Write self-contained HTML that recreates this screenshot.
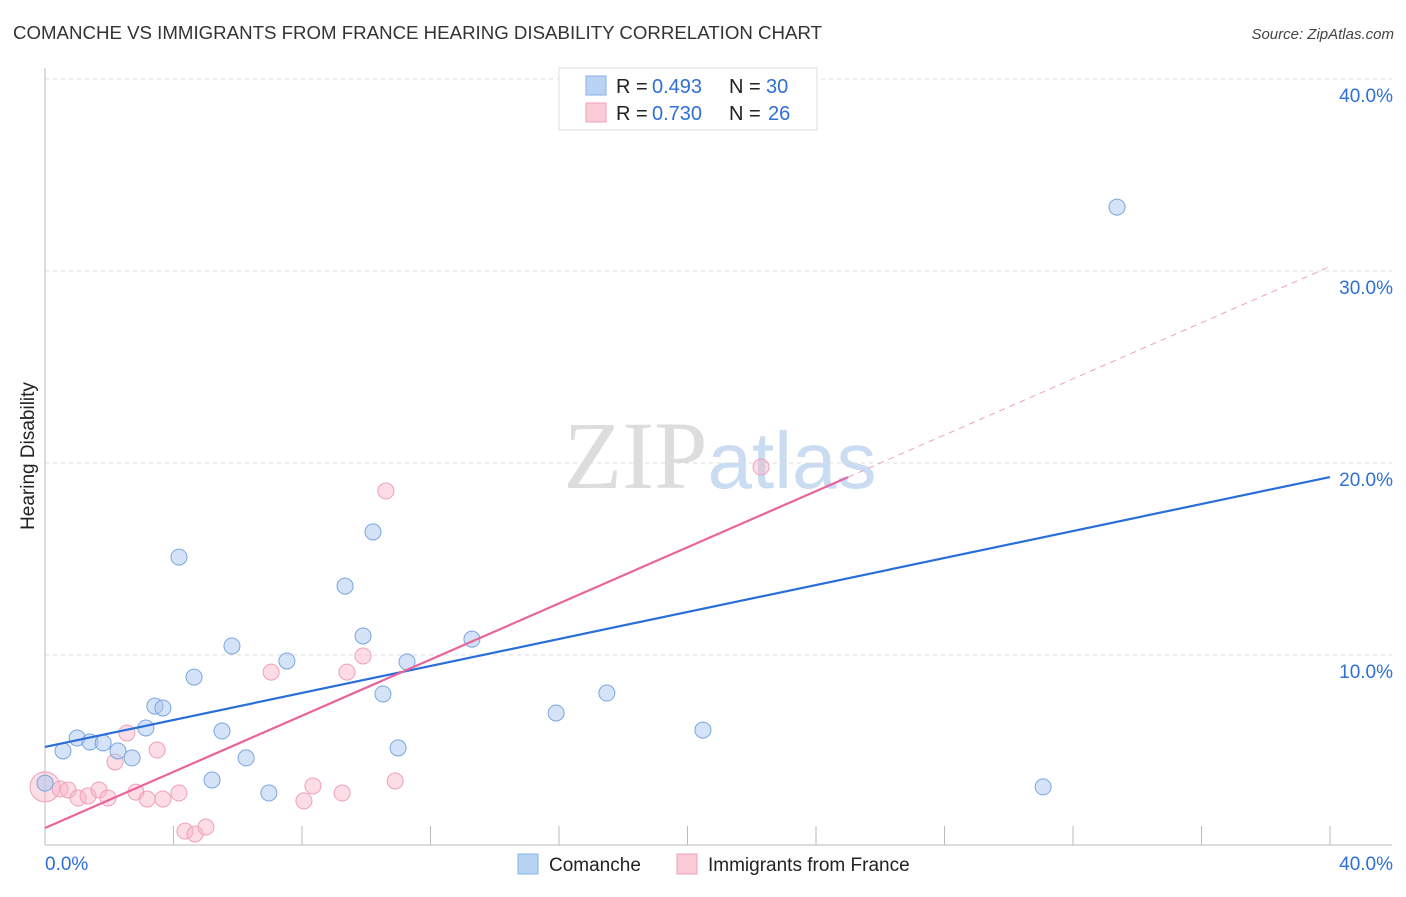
<!DOCTYPE html>
<html><head><meta charset="utf-8"><style>
body{margin:0;background:#fff;font-family:"Liberation Sans",sans-serif;}
svg text{font-family:"Liberation Sans",sans-serif;}
</style></head><body>
<svg id="chart" width="1406" height="892" viewBox="0 0 1406 892" xmlns="http://www.w3.org/2000/svg">
<text x="13" y="39" font-size="18" fill="#333" textLength="809" lengthAdjust="spacingAndGlyphs">COMANCHE VS IMMIGRANTS FROM FRANCE HEARING DISABILITY CORRELATION CHART</text>
<text x="1394" y="39" font-size="15" font-style="italic" fill="#444" text-anchor="end">Source: ZipAtlas.com</text>
<text x="720" y="488" font-size="96" text-anchor="middle"><tspan font-family="Liberation Serif" fill="#ddd">ZIP</tspan><tspan fill="#c9dcf2" font-size="80">atlas</tspan></text>
<g id="grid"></g>
<g id="axes"></g>
<g id="marks"></g>
<text transform="translate(34,456) rotate(-90)" font-size="19" fill="#222" text-anchor="middle">Hearing Disability</text>
<g>
<rect x="559" y="68" width="258" height="62" fill="#fff" stroke="#ddd"/>
<rect x="586" y="76" width="20" height="19" fill="#b9d3f5" stroke="#8ab2e8"/>
<rect x="586" y="103" width="20" height="19" fill="#fbcbd8" stroke="#f0a0b8"/>
<text x="616" y="93" font-size="20" fill="#222">R =</text>
<text x="652" y="93" font-size="20" fill="#2f6fd6">0.493</text>
<text x="729" y="93" font-size="20" fill="#222">N =</text>
<text x="766" y="93" font-size="20" fill="#2f6fd6">30</text>
<text x="616" y="120" font-size="20" fill="#222">R =</text>
<text x="652" y="120" font-size="20" fill="#2f6fd6">0.730</text>
<text x="729" y="120" font-size="20" fill="#222">N =</text>
<text x="768" y="120" font-size="20" fill="#2f6fd6">26</text>
</g>
<g>
<rect x="518" y="854" width="20" height="20" fill="#b9d3f5" stroke="#8ab2e8"/>
<text x="549" y="871" font-size="19" fill="#222">Comanche</text>
<rect x="677" y="854" width="20" height="20" fill="#fbcbd8" stroke="#f0a0b8"/>
<text x="708" y="871" font-size="19" fill="#222">Immigrants from France</text>
</g>
</svg>
<script>
const yTicks=[10,20,30,40];
const yTickLabels=["10.0%","20.0%","30.0%","40.0%"];
const xTickLabels=["0.0%","40.0%"];
const blueX=[0,0.56,1.0,1.4,1.81,2.27,2.71,3.14,3.42,3.67,4.17,4.64,5.2,5.51,5.82,6.26,6.97,7.53,9.34,9.9,10.21,10.52,10.99,11.27,13.29,15.91,17.49,20.48,31.07,33.37];
const blueY=[3.33,5.0,5.68,5.47,5.42,5.0,4.64,6.2,7.34,7.24,15.1,8.85,3.49,6.04,10.47,4.64,2.81,9.69,13.59,10.99,16.41,7.97,5.16,9.64,10.83,6.98,8.02,6.09,3.13,33.33];
const pinkX=[0,0.47,0.72,1.03,1.34,1.68,1.96,2.18,2.55,2.83,3.18,3.49,3.67,4.17,4.36,4.67,5.01,7.04,8.06,8.34,9.25,9.4,9.9,10.61,10.9,22.29];
const pinkY=[3.13,3.02,2.97,2.55,2.66,2.97,2.55,4.43,5.94,2.86,2.5,5.05,2.5,2.81,0.83,0.68,1.04,9.11,2.4,3.18,2.81,9.11,9.95,18.54,3.44,19.79];
const blueTrend=[5.21,19.27];
const pinkTrend=[0.99,0.731];
const pinkSolidEnd=25.0;
const X=v=>45+v*32.125, Y=v=>847-v*19.2;
const NS="http://www.w3.org/2000/svg";
function mk(tag,attrs,parent){const e=document.createElementNS(NS,tag);for(const k in attrs)e.setAttribute(k,attrs[k]);document.getElementById(parent).appendChild(e);return e;}
yTicks.forEach((t,i)=>{
 const l=mk('line',{x1:45,x2:1392,y1:Y(t),y2:Y(t),stroke:'#ddd','stroke-dasharray':'4,4'},'grid');
 
 
 const tx=mk('text',{x:1393,y:Y(t)+23,'font-size':19,fill:'#2f6fd6','text-anchor':'end'},'axes');
 tx.textContent=yTickLabels[i];
 
 
});
let a=mk('line',{x1:45,x2:45,y1:68,y2:845,stroke:'#bbb'},'axes');


a=mk('line',{x1:45,x2:1392,y1:845,y2:845,stroke:'#bbb'},'axes');


for(let i=1;i<=10;i++){const t=mk('line',{x1:X(i*4),x2:X(i*4),y1:826,y2:845,stroke:'#bbb'},'axes');
 
 }
[[0,'start',45],[40,'end',1393]].forEach((d,i)=>{const t=mk('text',{x:d[2],y:870,'font-size':19,fill:'#2f6fd6','text-anchor':d[1]},'axes');t.textContent=xTickLabels[i];
 
 });
pinkX.forEach((x,i)=>{const c=mk('circle',{cx:X(x),cy:Y(pinkY[i]),r:i===0?15:8,fill:'rgba(248,180,200,0.45)',stroke:'#eea0b8','stroke-width':1},'marks');
 
 });
blueX.forEach((x,i)=>{const c=mk('circle',{cx:X(x),cy:Y(blueY[i]),r:8,fill:'rgba(170,200,240,0.5)',stroke:'#7aa6e0','stroke-width':1},'marks');
 
 });
let tl=mk('line',{x1:X(0),y1:Y(blueTrend[0]),x2:X(40),y2:Y(blueTrend[1]),stroke:'#2a6fd8','stroke-width':2.2},'marks');


tl=mk('line',{x1:X(0),y1:Y(pinkTrend[0]),x2:X(pinkSolidEnd),y2:Y(pinkTrend[0]+pinkTrend[1]*pinkSolidEnd),stroke:'#e8649a','stroke-width':2.2},'marks');


tl=mk('line',{x1:X(pinkSolidEnd),y1:Y(pinkTrend[0]+pinkTrend[1]*pinkSolidEnd),x2:X(40),y2:Y(pinkTrend[0]+pinkTrend[1]*40),stroke:'#eea0b8','stroke-width':1,'stroke-dasharray':'6,5'},'marks');


</script>
</body></html>
